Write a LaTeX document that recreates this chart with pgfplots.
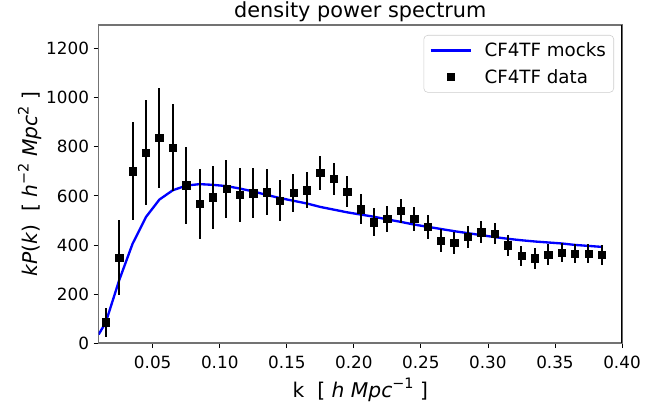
\documentclass[border=0pt]{standalone}
\usepackage{fontspec}
\setmainfont{DejaVu Sans}
\usepackage{pgfplots}
\pgfplotsset{compat=1.18}
\usepackage{pgfplotstable}

\pgfplotsset{
  legline/.style={legend image code/.code={\draw[##1] (0pt,0pt) -- (30pt,0pt);}},
  legmark/.style={legend image code/.code={\draw[##1] plot coordinates {(15pt,0pt)}; \path (0pt,0pt) (30pt,0pt);}},
}

\pgfplotstableread{
k P e
0.015 84 60
0.025 349 153
0.035 700 200
0.045 777 215
0.055 837 203
0.065 797 177
0.075 644 157
0.085 567 141
0.095 594 127
0.105 628 118
0.115 604 109
0.125 611 102
0.135 615 93
0.145 581 84
0.155 612 79
0.165 623 74
0.175 694 69
0.185 670 65
0.195 617 63
0.205 545 61
0.215 493 56
0.225 506 53
0.235 539 50
0.245 506 50
0.255 474 48
0.265 418 45
0.275 408 44
0.285 433 46
0.295 452 45
0.305 445 43
0.315 398 42
0.325 355 42
0.335 345 42
0.345 361 42
0.355 369 40
0.365 365 40
0.375 365 40
0.385 359 42
}\datatable

\pgfplotstableread{
k P
0.0097 35
0.015 84
0.025 256
0.035 405
0.045 514
0.055 585
0.065 623
0.075 642
0.085 648
0.095 645
0.105 640
0.115 630
0.125 618
0.135 604
0.145 591
0.155 580
0.165 569
0.175 555
0.185 544
0.195 533
0.205 524
0.215 515
0.225 504
0.235 494
0.245 483
0.255 474
0.265 465
0.275 456
0.285 448
0.295 440
0.305 432
0.315 425
0.325 419
0.335 414
0.345 410
0.355 406
0.365 400
0.375 396
0.385 392
}\modeltable

\newcommand{\sups}[1]{\raisebox{0.45em}{\fontsize{10.8}{12}\selectfont #1}}

\begin{document}
\begin{tikzpicture}
\begin{axis}[
  name=main,
  scale only axis,
  width=392.5pt, height=238.5pt,
  xmin=0.0097, xmax=0.40,
  ymin=0, ymax=1297,
  xtick={0.05,0.10,0.15,0.20,0.25,0.30,0.35,0.40},
  ytick={0,200,400,600,800,1000,1200},
  tick align=outside,
  tick pos=left,
  major tick length=3.75pt,
  tick style={black, line width=0.6pt},
  axis line style={draw=black!55, line width=0.8pt},
  /pgf/number format/assume math mode=true,
  x tick label style={/pgf/number format/fixed, /pgf/number format/fixed zerofill, /pgf/number format/precision=2, yshift=-2.25pt},
  y tick label style={/pgf/number format/1000 sep={}},
  tick label style={font=\fontsize{12.6}{15}\selectfont},
  title={density power spectrum},
  title style={font=\fontsize{15.6}{18}\selectfont, at={(axis description cs:0.5,1.0235)}, anchor=base, yshift=-6pt},
  xlabel={k\ \ [ \textit{h} \textit{Mpc}\sups{−1} ]},
  xlabel style={font=\fontsize{15.2}{18}\selectfont, at={(axis description cs:0.5,-0.1635)}, anchor=base, yshift=-2.25pt},
  ylabel={\textit{kP}(\textit{k})\ \ [ \textit{h}\sups{−2} \textit{Mpc}\sups{2} ]},
  ylabel style={font=\fontsize{15.2}{18}\selectfont, at={(axis description cs:-0.1166,0.5)}, anchor=base, rotate=0},
  legend style={at={(axis description cs:0.9847,0.9686)}, anchor=north east,
    draw=black!20, rounded corners=3pt, fill=white,
    font=\fontsize{13.7}{16}\selectfont,
    inner xsep=4.3pt, inner ysep=4pt, row sep=5pt,
    nodes={inner sep=1.5pt},
    /tikz/every odd column/.append style={column sep=8pt}},
  legend cell align=left,
]
\addlegendimage{legline, blue, line width=1.75pt}
\addlegendentry{CF4TF mocks}
\addlegendimage{legmark, only marks, mark=square*, mark size=2.5pt, black}
\addlegendentry{CF4TF data}

\addplot[blue, line width=1.75pt, forget plot] table[x=k, y=P] {\modeltable};
\addplot[only marks, mark=square*, mark size=2.75pt, black, forget plot,
  error bars/.cd, y dir=both, y explicit, error mark=none,
  error bar style={line width=1.5pt, black}]
  table[x=k, y=P, y error=e] {\datatable};
\draw[black, line width=0.8pt] (rel axis cs:1,0) -- (rel axis cs:1,1);
\end{axis}
\pgfresetboundingbox
\path ([xshift=-74pt,yshift=-45pt]main.south west) rectangle ([xshift=32.25pt,yshift=18.75pt]main.north east);
\end{tikzpicture}
\end{document}
